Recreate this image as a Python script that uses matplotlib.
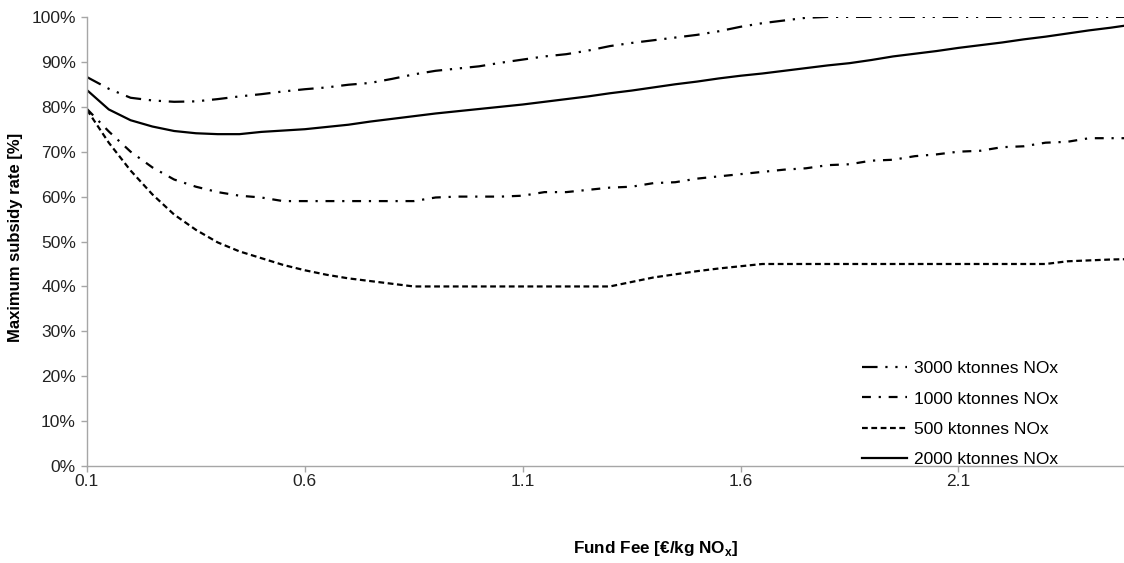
import matplotlib
matplotlib.use("Agg")
import matplotlib.pyplot as plt
from matplotlib.ticker import FuncFormatter

plt.rcParams['font.family'] = ['Liberation Sans', 'DejaVu Sans']

# Fund fee [EUR/kg NOx]
fee = [0.10, 0.15, 0.20, 0.25, 0.30, 0.35, 0.40, 0.45, 0.50, 0.55,
       0.60, 0.65, 0.70, 0.75, 0.80, 0.85, 0.90, 0.95, 1.00, 1.05,
       1.10, 1.15, 1.20, 1.25, 1.30, 1.35, 1.40, 1.45, 1.50, 1.55,
       1.60, 1.65, 1.70, 1.75, 1.80, 1.85, 1.90, 1.95, 2.00, 2.05,
       2.10, 2.15, 2.20, 2.25, 2.30, 2.35, 2.40, 2.45, 2.50]

# max subsidy rate [%]
s3000 = [86.6, 84.0, 82.0, 81.4, 81.1, 81.2, 81.7, 82.3, 82.8, 83.4,
         83.9, 84.3, 84.9, 85.3, 86.2, 87.2, 88.0, 88.5, 89.0, 89.8,
         90.5, 91.2, 91.7, 92.5, 93.5, 94.2, 94.8, 95.4, 96.0, 96.8,
         97.8, 98.6, 99.2, 99.8, 100, 100, 100, 100, 100, 100,
         100, 100, 100, 100, 100, 100, 100, 100, 100]
s1000 = [79.5, 74.5, 70.0, 66.5, 63.8, 62.2, 61.0, 60.2, 59.8, 59.0,
         59.0, 59.0, 59.0, 59.0, 59.0, 59.0, 59.8, 60.0, 60.0, 60.0,
         60.2, 61.0, 61.0, 61.5, 62.0, 62.2, 63.0, 63.2, 64.0, 64.5,
         65.0, 65.5, 66.0, 66.3, 67.0, 67.2, 68.0, 68.2, 69.0, 69.4,
         70.0, 70.2, 71.0, 71.2, 72.0, 72.2, 73.0, 73.0, 73.0]
s500 = [79.3, 72.0, 65.8, 60.5, 56.0, 52.6, 49.8, 47.8, 46.3, 44.8,
        43.6, 42.6, 41.8, 41.2, 40.6, 40.0, 40.0, 40.0, 40.0, 40.0,
        40.0, 40.0, 40.0, 40.0, 40.0, 41.0, 42.0, 42.7, 43.4, 44.0,
        44.5, 45.0, 45.0, 45.0, 45.0, 45.0, 45.0, 45.0, 45.0, 45.0,
        45.0, 45.0, 45.0, 45.0, 45.0, 45.6, 45.8, 46.0, 46.1]
s2000 = [83.7, 79.4, 77.0, 75.6, 74.6, 74.1, 73.9, 73.9, 74.4, 74.7,
         75.0, 75.5, 76.0, 76.7, 77.3, 77.9, 78.5, 79.0, 79.5, 80.0,
         80.5, 81.1, 81.7, 82.3, 83.0, 83.6, 84.3, 85.0, 85.6, 86.3,
         86.9, 87.4, 88.0, 88.6, 89.2, 89.7, 90.4, 91.2, 91.8, 92.4,
         93.1, 93.7, 94.3, 95.0, 95.6, 96.3, 97.0, 97.6, 98.3]

xticks = [0.1, 0.6, 1.1, 1.6, 2.1]

fig = plt.figure(figsize=(11.24, 5.63), dpi=100)
ax = fig.add_axes([0.0774, 0.172, 0.9226, 0.798])

lw = 1.6
l3000, = ax.plot(fee, s3000, color='black', lw=lw, dashes=(7, 3.5, 1, 3.5, 1, 3.5),
                 label='3000 ktonnes NOx')
l1000, = ax.plot(fee, s1000, color='black', lw=lw, dashes=(4, 3.5, 1, 3.5),
                 label='1000 ktonnes NOx')
l500, = ax.plot(fee, s500, color='black', lw=lw, dashes=(2.6, 1.6),
                label='500 ktonnes NOx')
l2000, = ax.plot(fee, s2000, color='black', lw=lw, label='2000 ktonnes NOx')

ax.set_xlim(0.1, 2.48)
ax.set_ylim(0, 100)
ax.set_xticks(xticks)
ax.set_xticklabels([str(t) for t in xticks])
ax.set_yticks(range(0, 101, 10))
ax.yaxis.set_major_formatter(FuncFormatter(lambda v, p: f"{int(v)}%"))

for s in ['top', 'right']:
    ax.spines[s].set_visible(False)
for s in ['left', 'bottom']:
    ax.spines[s].set_color('#a6a6a6')
    ax.spines[s].set_linewidth(1.0)
ax.tick_params(axis='both', colors='#a6a6a6', labelcolor='#222222',
               labelsize=12.5, length=4, width=1, direction='out')
ax.tick_params(axis='x', pad=2)
ax.tick_params(axis='y', pad=4)

ax.set_xlabel('Fund Fee [€/kg NO$_\\mathregular{x}$]', fontsize=12.3, fontweight='bold')
ax.xaxis.set_label_coords(0.548, -0.162)
ax.set_ylabel('Maximum subsidy rate [%]', fontsize=12, fontweight='bold')
ax.yaxis.set_label_coords(-0.0615, 0.51)

ax.legend(handles=[l3000, l1000, l500, l2000], loc='center left',
          bbox_to_anchor=(846 / 1124, 1 - 414 / 563), bbox_transform=fig.transFigure,
          frameon=False, fontsize=12.5, borderpad=0.4,
          handlelength=2.6, handletextpad=0.4, labelspacing=0.86)

fig.savefig('out.png', dpi=100)
